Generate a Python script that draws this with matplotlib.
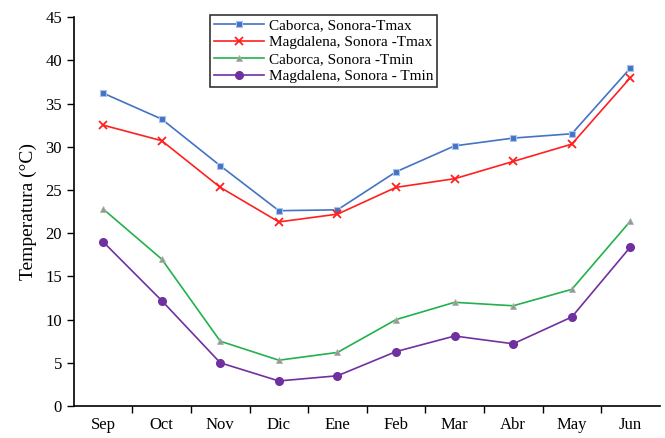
import matplotlib
matplotlib.use("Agg")
import matplotlib.pyplot as plt
import numpy as np

plt.rcParams['font.family'] = ['Liberation Serif', 'DejaVu Serif']

meses = ["Sep", "Oct", "Nov", "Dic", "Ene", "Feb", "Mar", "Abr", "May", "Jun"]
caborca_tmax = [36.2, 33.2, 27.8, 22.6, 22.7, 27.1, 30.1, 31.0, 31.5, 39.1]
magdalena_tmax = [32.5, 30.7, 25.3, 21.3, 22.2, 25.3, 26.3, 28.3, 30.3, 38.0]
caborca_tmin = [22.8, 17.0, 7.5, 5.3, 6.2, 10.0, 12.0, 11.6, 13.5, 21.4]
magdalena_tmin = [19.0, 12.2, 5.0, 2.9, 3.5, 6.3, 8.1, 7.2, 10.3, 18.4]

fig = plt.figure(figsize=(6.65, 4.38), dpi=100)
ax = fig.add_axes([0.111, 0.073, 0.881, 0.888])

x = np.arange(len(meses))
ax.plot(x, caborca_tmax, color="#4472C4", lw=1.2, marker="s", ms=4.5,
        mfc="#4472C4", mec="#A9C4EB", mew=0.8, label="Caborca, Sonora-Tmax")
ax.plot(x, magdalena_tmax, color="#FF2020", lw=1.2, marker="x", ms=6,
        mew=1.3, label="Magdalena, Sonora -Tmax")
ax.plot(x, caborca_tmin, color="#22B14C", lw=1.2, marker="^", ms=5,
        mfc="#8C9E8C", mec="#B0B0B0", mew=0.6, label="Caborca, Sonora -Tmin")
ax.plot(x, magdalena_tmin, color="#7030A0", lw=1.2, marker="o", ms=5.5,
        mfc="#7030A0", mec="#7030A0", label="Magdalena, Sonora - Tmin")

ax.set_xlim(-0.5, len(meses) - 0.5)
ax.set_ylim(0, 45)
ax.set_yticks(np.arange(0, 46, 5))
ax.set_xticks(x)
ax.set_xticklabels(meses)
ax.set_xticks(np.arange(0.5, len(meses) - 1, 1), minor=True)
ax.tick_params(axis="x", which="major", length=0, labelsize=12, pad=8)
ax.tick_params(axis="x", which="minor", length=5, width=1)
ax.tick_params(axis="y", length=5, width=1, labelsize=12)
ax.set_ylabel("Temperatura (°C)", fontsize=14, labelpad=6)

for s in ["top", "right"]:
    ax.spines[s].set_visible(False)
for s in ["left", "bottom"]:
    ax.spines[s].set_linewidth(1.2)

# legend box sits near the top, left of centre
leg = ax.legend(loc="upper left", bbox_to_anchor=(0.232, 1.006), fontsize=11,
                frameon=True, fancybox=False, edgecolor="black",
                borderpad=0.25, labelspacing=0.22, handlelength=3.3,
                handletextpad=0.3, borderaxespad=0)
leg.get_frame().set_linewidth(1.2)

fig.savefig("out.png", dpi=100)
